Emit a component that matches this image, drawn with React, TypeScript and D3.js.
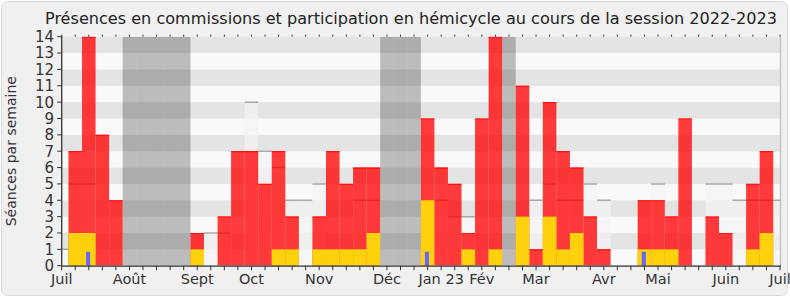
import React from "react";
import * as d3 from "d3";

// week index u: 0..53, week u spans [u-0.5, u+0.5]
const commission = [0, 7, 14, 8, 4, 0, 0, 0, 0, 0, 2, 0, 3, 7, 7, 5, 7, 3, 0, 3, 7, 5, 6, 6, 0, 0, 0, 9, 6, 5, 2, 9, 14, 0, 11, 1, 10, 7, 6, 3, 1, 0, 0, 4, 4, 3, 9, 0, 3, 2, 0, 5, 7, 0];
const hemicycle = [0, 2, 2, 0, 0, 0, 0, 0, 0, 0, 1, 0, 0, 0, 0, 0, 1, 1, 0, 1, 1, 1, 1, 2, 0, 0, 0, 4, 0, 0, 1, 0, 1, 0, 3, 0, 3, 1, 2, 0, 0, 0, 0, 1, 1, 1, 0, 0, 0, 0, 0, 1, 2, 0];
const questions = [0, 0, 0.85, 0, 0, 0, 0, 0, 0, 0, 0, 0, 0, 0, 0, 0, 0, 0, 0, 0, 0, 0, 0, 0, 0, 0, 0, 0.85, 0, 0, 0, 0, 0, 0, 0, 0, 0, 0, 0, 0, 0, 0, 0, 0.85, 0, 0, 0, 0, 0, 0, 0, 0, 0, 0];
const median = [1, 5, 5, 0, 0, 0, 0, 0, 0, 0, 0, 2, 2, 0, 10, 7, 6, 4, 4, 5, 0, 0, 4, 4, 0, 0, 0, 0, 4, 3, 3, 0, 0, 0, 0, 4, 5, 4, 4, 5, 4, 0, 0, 0, 5, 0, 0, 0, 5, 5, 4, 4, 4, 4];
const vacationWeeks = [5, 6, 7, 8, 9, 24, 25, 26, 33];
const monthLabels = ["Juil", "Août", "Sept", "Oct", "Nov", "Déc", "Jan 23", "Fév", "Mar", "Avr", "Mai", "Juin", "Juil"];
const monthWeeks = [0, 5, 10, 14, 19, 24, 28, 31, 35, 40, 44, 49, 53];
const yTicks = d3.range(0, 15);
const title = "Présences en commissions et participation en hémicycle au cours de la session 2022-2023";
const yTitle = "Séances par semaine";

const W = 790;
const H = 300;
const X0 = 61.7;
const X1 = 780;
const Y0 = 265.7;
const Y1 = 36.7;

export default function App() {
  const x = d3.scaleLinear().domain([0, 53]).range([X0, X1]);
  const y = d3.scaleLinear().domain([0, 14]).range([Y0, Y1]);
  const weeks = d3.range(0, commission.length);
  const font = "DejaVu Sans, Verdana, sans-serif";
  const bw = x(1) - x(0);

  return (
    <svg width={W} height={H} style={{ position: "absolute", left: 0, top: 0 }} fontFamily={font}>
      <defs>
        <clipPath id="plot">
          <rect x={X0} y={Y1} width={X1 - X0} height={Y0 - Y1} />
        </clipPath>
      </defs>
      <rect x={0} y={0} width={W} height={H} fill="#ffffff" />
      <rect x={1.5} y={1.5} width={786} height={294} rx={6} fill="#f0f0f0" stroke="#dadada" />
      <text x={(45 + 777) / 2} y={24} textAnchor="middle" fontSize={16} fontStretch="condensed" fill="#222" textLength={732} lengthAdjust="spacingAndGlyphs">
        {title}
      </text>
      <g clipPath="url(#plot)">
        {d3.range(0, 14).map((i) => (
          <rect key={"s" + i} x={X0} y={y(i + 1)} width={X1 - X0} height={y(i) - y(i + 1)} fill={i % 2 === 1 ? "#e4e4e4" : "#f9f9f9"} />
        ))}
        {vacationWeeks.map((u) => (
          <rect key={"v" + u} x={x(u - 0.5)} y={Y1} width={bw} height={Y0 - Y1} fill="#000" fillOpacity={0.245} />
        ))}
        {weeks.filter((u) => median[u] > 0).map((u) => (
          <g key={"m" + u}>
            <rect x={x(u - 0.5)} y={y(median[u])} width={bw} height={Y0 - y(median[u])} fill="#f3f3f3" fillOpacity={0.75} />
            <line x1={x(u - 0.5)} x2={x(u + 0.5)} y1={y(median[u])} y2={y(median[u])} stroke="#a8a8a8" strokeWidth={1.5} />
          </g>
        ))}
        {weeks.filter((u) => commission[u] > 0).map((u) => (
          <g key={"c" + u}>
            <rect x={x(u - 0.5)} y={y(commission[u])} width={bw} height={Y0 - y(commission[u])} fill="#ff0000" fillOpacity={0.77} />
            <line x1={x(u - 0.5)} x2={x(u + 0.5)} y1={y(commission[u]) + 0.5} y2={y(commission[u]) + 0.5} stroke="#ff1010" strokeWidth={1.2} />
          </g>
        ))}
        {weeks.filter((u) => hemicycle[u] > 0).map((u) => (
          <rect key={"h" + u} x={x(u - 0.5)} y={y(hemicycle[u])} width={bw} height={Y0 - y(hemicycle[u])} fill="#fed10d" />
        ))}
        {weeks.filter((u) => questions[u] > 0).map((u) => (
          <rect key={"q" + u} x={x(u - 0.2)} y={y(questions[u])} width={x(u + 0.1) - x(u - 0.2)} height={Y0 - y(questions[u])} fill="#6666ff" />
        ))}
      </g>
      <line x1={X1 + 0.5} x2={X1 + 0.5} y1={Y1} y2={Y0} stroke="#c4c4c4" strokeWidth={1.5} />
      <line x1={X0} x2={X0} y1={Y1 - 1} y2={Y0 + 0.5} stroke="#333" strokeWidth={1.3} />
      <line x1={X0} x2={X1 + 1} y1={Y0 + 0.5} y2={Y0 + 0.5} stroke="#333" strokeWidth={1.3} />
      {yTicks.map((t) => (
        <g key={"yt" + t}>
          <line x1={X0 - 4.5} x2={X0} y1={y(t)} y2={y(t)} stroke="#333" strokeWidth={1} />
          <text x={54} y={y(t)} dy="0.36em" textAnchor="end" fontSize={15} fill="#333">{t}</text>
        </g>
      ))}
      {d3.range(0, 54).map((u) => (
        <g key={"xt" + u}>
          <line x1={x(u)} x2={x(u)} y1={Y0} y2={Y0 + 4.5} stroke="#333" strokeWidth={1} />
          <line x1={x(u)} x2={x(u)} y1={Y1 - 2} y2={Y1} stroke="#333" strokeWidth={1} />
        </g>
      ))}
      {monthLabels.map((m, i) => (
        <text key={"ml" + i} x={x(monthWeeks[i])} y={284} textAnchor="middle" fontSize={14.5} fill="#333">{m}</text>
      ))}
      <text transform={`translate(16,${(Y0 + Y1) / 2}) rotate(-90)`} textAnchor="middle" fontSize={14} fill="#333">
        {yTitle}
      </text>
    </svg>
  );
}
